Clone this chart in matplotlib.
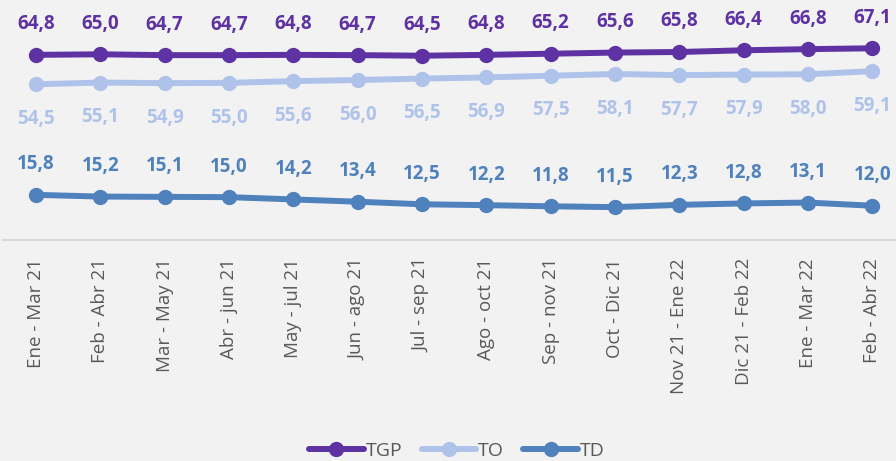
import matplotlib.pyplot as plt
import numpy as np

periodos = ['Ene - Mar 21', 'Feb - Abr 21', 'Mar - May 21', 'Abr - jun 21',
            'May - jul 21', 'Jun - ago 21', 'Jul - sep 21', 'Ago - oct 21',
            'Sep - nov 21', 'Oct - Dic 21', 'Nov 21 - Ene 22', 'Dic 21 - Feb 22',
            'Ene - Mar 22', 'Feb - Abr 22']
tgp = [64.8, 65.0, 64.7, 64.7, 64.8, 64.7, 64.5, 64.8, 65.2, 65.6, 65.8, 66.4, 66.8, 67.1]
to = [54.5, 55.1, 54.9, 55.0, 55.6, 56.0, 56.5, 56.9, 57.5, 58.1, 57.7, 57.9, 58.0, 59.1]
td = [15.8, 15.2, 15.1, 15.0, 14.2, 13.4, 12.5, 12.2, 11.8, 11.5, 12.3, 12.8, 13.1, 12.0]

plt.rcParams['font.family'] = ['Open Sans', 'DejaVu Sans']

bg = '#F2F2F2'
fig = plt.figure(figsize=(8.96, 4.61), dpi=100, facecolor=bg)
# axes area: baseline at y=240px, spans x 3..896px
ax = fig.add_axes([3 / 896, 1 - 240 / 461, 893 / 896, 240 / 461], facecolor=bg)

x = np.arange(len(periodos))
series = [('TGP', tgp, '#5E32A2', 22),
          ('TO', to, '#AFC3EA', -25),
          ('TD', td, '#4F81BD', 22)]

for name, vals, color, off in series:
    ax.plot(x, vals, '-o', color=color, lw=4.3, ms=10, label=name,
            solid_capstyle='round')
    for xi, v in zip(x, vals):
        txt = f'{v:.1f}'.replace('.', ',')
        ax.annotate(txt, (xi, v), xytext=(0, off), textcoords='offset points',
                    ha='center', va='center', fontsize=13.5,
                    fontweight='bold', color=color)

ax.set_ylim(0, 84)
ax.set_xlim(-0.513, 13.37)
ax.set_yticks([])
for s in ['top', 'right', 'left']:
    ax.spines[s].set_visible(False)
ax.spines['bottom'].set_color('#D9D9D9')
ax.spines['bottom'].set_linewidth(1.5)
ax.set_xticks(x)
ax.set_xticklabels(periodos, rotation=90, fontsize=13.5, color='#595959')
ax.tick_params(axis='x', length=0, pad=13)

leg = fig.legend(loc='center', ncol=3, frameon=False, fontsize=14,
                 bbox_to_anchor=(0.51, 1 - 451 / 461), handlelength=2.8,
                 columnspacing=1.0, handletextpad=0.1)
for t in leg.get_texts():
    t.set_color('#595959')

plt.savefig('out.png', dpi=100, facecolor=bg)
